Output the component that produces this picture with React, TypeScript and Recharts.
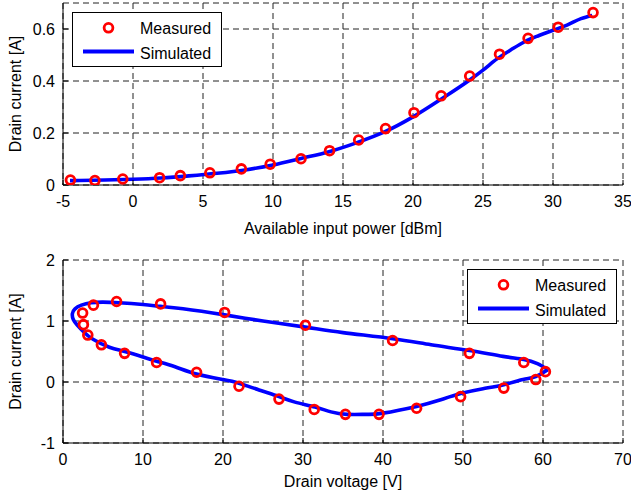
import { ComposedChart, Line, Scatter, XAxis, YAxis, CartesianGrid, Legend } from 'recharts'

const FONT = '"Liberation Sans", Arial, Helvetica, sans-serif'

// top: drain current vs available input power
const powerMeasX = [-4.47, -2.72, -0.73, 1.9, 3.38, 5.49, 7.74, 9.8, 12.0, 14.04, 16.12, 18.04, 20.07, 22.01, 24.05, 26.18, 28.22, 30.37, 32.86]
const powerMeasY = [0.019, 0.017, 0.023, 0.028, 0.036, 0.047, 0.062, 0.08, 0.101, 0.132, 0.173, 0.217, 0.278, 0.343, 0.419, 0.503, 0.564, 0.607, 0.663]
const powerSimX = [-4.5, -2, 0, 2, 4, 6, 8, 10, 12, 14, 16, 18, 20, 22, 24, 25, 26, 27, 28, 29, 30, 31, 32, 32.8]
const powerSimY = [0.017, 0.019, 0.022, 0.027, 0.035, 0.045, 0.058, 0.077, 0.102, 0.128, 0.163, 0.205, 0.262, 0.33, 0.402, 0.442, 0.485, 0.52, 0.552, 0.575, 0.595, 0.615, 0.64, 0.652]
const powerTicks = [-5, 0, 5, 10, 15, 20, 25, 30, 35]
const powerCurrentTicks = [0, 0.2, 0.4, 0.6]

// bottom: load line (drain current vs drain voltage)
const voltMeasX = [60.3, 57.6, 50.8, 41.2, 30.3, 20.2, 12.2, 6.7, 3.8, 2.45, 2.55, 3.1, 4.8, 7.7, 11.7, 16.7, 22, 27, 31.4, 35.3, 39.5, 44.2, 49.7, 55.1, 59.1]
const voltMeasY = [0.17, 0.32, 0.47, 0.68, 0.93, 1.14, 1.28, 1.32, 1.26, 1.13, 0.94, 0.77, 0.61, 0.47, 0.32, 0.16, -0.07, -0.28, -0.45, -0.53, -0.53, -0.43, -0.24, -0.1, 0.04]
const voltSimX = [60.6, 59.3, 57.6, 55, 50.8, 46, 41.2, 35, 30.3, 25, 20.2, 15, 12.2, 10, 7, 5, 3.5, 2.3, 1.5, 1.17, 1.3, 1.8, 2.6, 3.75, 5.8, 7.7, 10, 11.7, 14, 16.7, 20, 22, 24.5, 27, 29, 31.5, 33.5, 35.5, 38, 40, 44.2, 47, 49.7, 52.5, 55.1, 57.5, 59.1, 60.6]
const voltSimY = [0.2, 0.3, 0.37, 0.42, 0.515, 0.61, 0.71, 0.81, 0.9, 1.0, 1.1, 1.2, 1.24, 1.27, 1.3, 1.31, 1.3, 1.26, 1.2, 1.12, 1.02, 0.93, 0.82, 0.7, 0.57, 0.5, 0.41, 0.34, 0.25, 0.13, 0.04, -0.02, -0.13, -0.24, -0.33, -0.41, -0.49, -0.53, -0.53, -0.51, -0.4, -0.3, -0.19, -0.11, -0.045, 0.04, 0.09, 0.2]
const voltTicks = [0, 10, 20, 30, 40, 50, 60, 70]
const voltCurrentTicks = [-1, 0, 1, 2]

const zip = (xs: number[], ys: number[]) => xs.map((x, i) => ({ x, y: ys[i] }))

const tickStyle = { fill: '#000', fontSize: 16, fontFamily: FONT }
const labelStyle = { fill: '#000', fontSize: 16, fontFamily: FONT }

const Ring = ({ cx, cy }: any) => (
  <circle cx={cx} cy={cy} r={4.4} fill="none" stroke="#FF0000" strokeWidth={2.8} />
)

const LegendBox = () => (
  <svg width={150} height={55} style={{ display: 'block' }}>
    <rect x={0.5} y={0.5} width={149} height={54} fill="#fff" stroke="#000" strokeWidth={1} />
    <circle cx={36.5} cy={15.8} r={4.4} fill="none" stroke="#FF0000" strokeWidth={2.8} />
    <line x1={11} x2={62} y1={39.5} y2={39.5} stroke="#0000FF" strokeWidth={4} />
    <text x={68} y={21.5} fontSize={16} fontFamily={FONT} fill="#000">Measured</text>
    <text x={68} y={46.5} fontSize={16} fontFamily={FONT} fill="#000">Simulated</text>
  </svg>
)

const blank = () => ''

interface PanelProps {
  height: number
  top: number
  xLabel: string
  xLabelOffset: number
  xHeight: number
  xDomain: [number, number]
  xTicks: number[]
  yDomain: [number, number]
  yTicks: number[]
  meas: { x: number; y: number }[]
  sim: { x: number; y: number }[]
  curve: 'monotone' | 'natural'
  legendPos: { left: number; top: number }
}

function Panel(p: PanelProps) {
  return (
    <ComposedChart width={631} height={p.height} margin={{ top: p.top, right: 8, bottom: 0, left: 8 }}>
      <CartesianGrid stroke="#222" strokeDasharray="6 4" strokeWidth={1} />
      <XAxis
        dataKey="x"
        type="number"
        domain={p.xDomain}
        ticks={p.xTicks}
        allowDataOverflow
        height={p.xHeight}
        stroke="#000"
        tickSize={-5}
        tickMargin={16}
        tick={tickStyle}
        label={{ value: p.xLabel, position: 'insideBottom', offset: p.xLabelOffset, ...labelStyle }}
      />
      <XAxis
        xAxisId="top"
        orientation="top"
        dataKey="x"
        type="number"
        domain={p.xDomain}
        ticks={p.xTicks}
        allowDataOverflow
        height={0}
        stroke="#000"
        tickSize={-5}
        tickFormatter={blank}
      />
      <YAxis
        dataKey="y"
        type="number"
        domain={p.yDomain}
        ticks={p.yTicks}
        allowDataOverflow
        width={55}
        stroke="#000"
        tickSize={-5}
        tickMargin={13}
        tick={tickStyle}
        label={{ value: 'Drain current [A]', angle: -90, position: 'insideLeft', offset: 7, ...labelStyle, style: { textAnchor: 'middle' } }}
      />
      <YAxis
        yAxisId="right"
        orientation="right"
        dataKey="y"
        type="number"
        domain={p.yDomain}
        ticks={p.yTicks}
        allowDataOverflow
        width={0}
        stroke="#000"
        tickSize={-5}
        tickFormatter={blank}
      />
      <Scatter data={p.meas} dataKey="y" shape={<Ring />} isAnimationActive={false} />
      <Line data={p.sim} dataKey="y" type={p.curve} stroke="#0000FF" strokeWidth={3.6} dot={false} activeDot={false} isAnimationActive={false} />
      <Legend
        layout="vertical"
        align="center"
        verticalAlign="middle"
        content={<LegendBox />}
        wrapperStyle={{ left: p.legendPos.left, top: p.legendPos.top, width: 150, height: 55 }}
      />
    </ComposedChart>
  )
}

export default function App() {
  return (
    <div style={{ position: 'absolute', left: 0, top: 0, width: 631, height: 493, background: '#fff' }}>
      <Panel
        height={245}
        top={3}
        xLabel="Available input power [dBm]"
        xLabelOffset={11}
        xHeight={60}
        xDomain={[-5, 35]}
        xTicks={powerTicks}
        yDomain={[0, 0.7]}
        yTicks={powerCurrentTicks}
        meas={zip(powerMeasX, powerMeasY)}
        sim={zip(powerSimX, powerSimY)}
        curve="monotone"
        legendPos={{ left: 72, top: 12 }}
      />
      <div style={{ height: 5 }} />
      <Panel
        height={243}
        top={10}
        xLabel="Drain voltage [V]"
        xLabelOffset={6}
        xHeight={50}
        xDomain={[0, 70]}
        xTicks={voltTicks}
        yDomain={[-1, 2]}
        yTicks={voltCurrentTicks}
        meas={zip(voltMeasX, voltMeasY)}
        sim={zip(voltSimX, voltSimY)}
        curve="natural"
        legendPos={{ left: 467, top: 19 }}
      />
    </div>
  )
}
